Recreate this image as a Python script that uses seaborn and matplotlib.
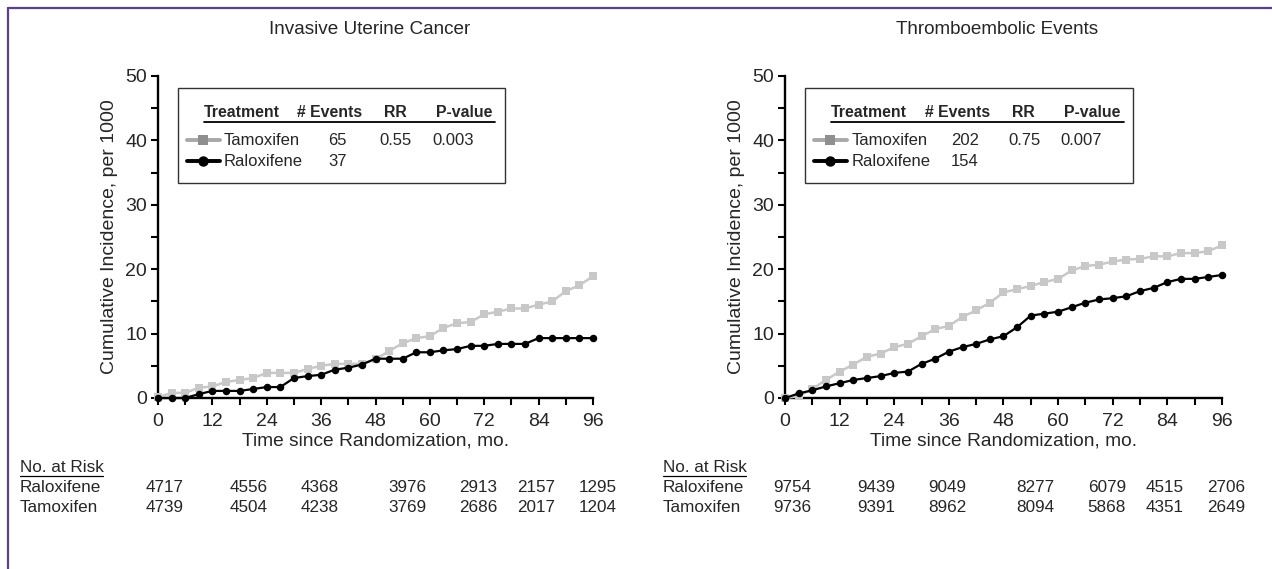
import matplotlib
matplotlib.use("Agg")
import matplotlib.pyplot as plt
from matplotlib.lines import Line2D
from matplotlib.patches import Rectangle
import matplotlib.transforms as mtransforms
import seaborn as sns
import pandas as pd

# ---------------- data ----------------
months = [0, 3, 6, 9, 12, 15, 18, 21, 24, 27, 30, 33, 36, 39, 42, 45, 48,
          51, 54, 57, 60, 63, 66, 69, 72, 75, 78, 81, 84, 87, 90, 93, 96]

uterine_tamoxifen = [0.1, 0.8, 0.8, 1.6, 1.8, 2.5, 2.8, 3.1, 3.9, 3.9, 3.9, 4.5, 5.0,
                     5.3, 5.3, 5.3, 6.0, 7.3, 8.5, 9.3, 9.6, 10.9, 11.6, 11.8, 13.0,
                     13.4, 13.9, 13.9, 14.5, 15.0, 16.6, 17.5, 18.9]
uterine_raloxifene = [0, 0, 0, 0.6, 1.1, 1.1, 1.1, 1.4, 1.7, 1.7, 3.1, 3.4, 3.6,
                      4.4, 4.7, 5.2, 6.1, 6.1, 6.1, 7.1, 7.1, 7.4, 7.6, 8.1, 8.1,
                      8.4, 8.4, 8.4, 9.3, 9.3, 9.3, 9.3, 9.3]

thrombo_tamoxifen = [0, 0.3, 1.4, 2.8, 4.1, 5.2, 6.4, 6.9, 7.9, 8.4, 9.6, 10.7, 11.2,
                     12.6, 13.6, 14.8, 16.4, 16.9, 17.4, 18.0, 18.5, 19.8, 20.5, 20.7,
                     21.2, 21.5, 21.6, 22.0, 22.0, 22.5, 22.5, 22.8, 23.7]
thrombo_raloxifene = [0, 0.7, 1.2, 1.8, 2.3, 2.8, 3.1, 3.4, 3.9, 4.1, 5.3, 6.1, 7.2,
                      7.9, 8.4, 9.1, 9.6, 11.0, 12.8, 13.1, 13.4, 14.1, 14.8, 15.3,
                      15.5, 15.8, 16.6, 17.1, 18.0, 18.5, 18.5, 18.8, 19.1]

titles = ["Invasive Uterine Cancer", "Thromboembolic Events"]
events_tam = ["65", "202"]
events_ral = ["37", "154"]
rr_values = ["0.55", "0.75"]
p_values = ["0.003", "0.007"]

risk_ral_uterine = ["4717", "4556", "4368", "3976", "2913", "2157", "1295"]
risk_tam_uterine = ["4739", "4504", "4238", "3769", "2686", "2017", "1204"]
risk_ral_thrombo = ["9754", "9439", "9049", "8277", "6079", "4515", "2706"]
risk_tam_thrombo = ["9736", "9391", "8962", "8094", "5868", "4351", "2649"]

xticks = [0, 12, 24, 36, 48, 60, 72, 84, 96]

# ---------------- style ----------------
sns.set_theme(style="ticks")
plt.rcParams["font.family"] = ["Liberation Sans", "DejaVu Sans"]

GRAY = "#c8c8c8"
LEG_GRAY = "#8f8f8f"
W, H = 1272, 569

fig = plt.figure(figsize=(W / 100, H / 100), dpi=100)
fig.patch.set_facecolor("white")

axes_px = [(158, 435), (785, 437)]
ax_bottom = 1 - 398 / H
ax_height = 322 / H

risk_x = [1.5, 20, 35.6, 55, 70.7, 83.5, 97]

panels = [
    (uterine_tamoxifen, uterine_raloxifene, risk_ral_uterine, risk_tam_uterine),
    (thrombo_tamoxifen, thrombo_raloxifene, risk_ral_thrombo, risk_tam_thrombo),
]

for i, ((tam, ral, rral, rtam), (x0, wpx)) in enumerate(zip(panels, axes_px)):
    ax = fig.add_axes([x0 / W, ax_bottom, wpx / W, ax_height])
    df = pd.DataFrame({"month": months, "Tamoxifen": tam, "Raloxifene": ral})
    sns.lineplot(data=df, x="month", y="Tamoxifen", ax=ax, color=GRAY,
                 marker="s", markersize=5.2, markeredgewidth=0, linewidth=1.8,
                 clip_on=False, zorder=3)
    sns.lineplot(data=df, x="month", y="Raloxifene", ax=ax, color="black",
                 marker="o", markersize=5.4, markeredgewidth=0, linewidth=1.6,
                 clip_on=False, zorder=4)
    ax.set_xlim(0, 96)
    ax.set_ylim(0, 50)
    ax.set_xticks(xticks)
    ax.set_xticks(list(range(6, 96, 12)), minor=True)
    ax.set_yticks([0, 10, 20, 30, 40, 50])
    ax.set_yticks([5, 15, 25, 35, 45], minor=True)
    for sp in ["top", "right"]:
        ax.spines[sp].set_visible(False)
    for sp in ["left", "bottom"]:
        ax.spines[sp].set_linewidth(1.7)
        ax.spines[sp].set_color("black")
    ax.tick_params(which="both", direction="out", length=5, width=1.5,
                   color="black", labelsize=14, pad=3)
    ax.tick_params(axis="x", which="major", pad=6)
    ax.set_xlabel("")
    ax.set_ylabel("Cumulative Incidence, per 1000", fontsize=14, labelpad=5)
    ax.set_facecolor("white")

    # title
    fig.text((x0 + wpx / 2 - 6) / W, 1 - 30 / H, titles[i], ha="center",
             va="center", fontsize=13.6)
    # x label
    ax.text(0.5, -0.135, "Time since Randomization, mo.", transform=ax.transAxes,
            ha="center", va="center", fontsize=13.8)

    # legend box
    ax.add_patch(Rectangle((0.045, 0.668), 0.752, 0.295, transform=ax.transAxes,
                           facecolor="white", edgecolor="#333333", linewidth=1.0,
                           zorder=5, clip_on=False))
    hy, r1, r2 = 0.888, 0.801, 0.736
    hdr_kw = dict(transform=ax.transAxes, fontsize=11.4, fontweight="bold",
                  va="center", zorder=6)
    ax.text(0.106, hy, "Treatment", ha="left", **hdr_kw)
    ax.text(0.395, hy, "# Events", ha="center", **hdr_kw)
    ax.text(0.545, hy, "RR", ha="center", **hdr_kw)
    ax.text(0.703, hy, "P-value", ha="center", **hdr_kw)
    ax.add_line(Line2D([0.106, 0.775], [0.857, 0.857], transform=ax.transAxes,
                       color="black", linewidth=1.3, zorder=6))
    row_kw = dict(transform=ax.transAxes, fontsize=12, va="center", zorder=6)
    ax.add_line(Line2D([0.066, 0.142], [r1, r1], transform=ax.transAxes,
                       color="#a8a8a8", linewidth=2.8, zorder=6))
    ax.add_line(Line2D([0.104], [r1], transform=ax.transAxes, marker="s",
                       markersize=7, color=LEG_GRAY, markeredgewidth=0, zorder=7))
    ax.add_line(Line2D([0.066, 0.142], [r2, r2], transform=ax.transAxes,
                       color="black", linewidth=2.8, zorder=6))
    ax.add_line(Line2D([0.104], [r2], transform=ax.transAxes, marker="o",
                       markersize=7.5, color="black", markeredgewidth=0, zorder=7))
    ax.text(0.152, r1, "Tamoxifen", ha="left", **row_kw)
    ax.text(0.152, r2, "Raloxifene", ha="left", **row_kw)
    ax.text(0.412, r1, events_tam[i], ha="center", **row_kw)
    ax.text(0.412, r2, events_ral[i], ha="center", **row_kw)
    ax.text(0.547, r1, rr_values[i], ha="center", **row_kw)
    ax.text(0.678, r1, p_values[i], ha="center", **row_kw)

    # at-risk table
    left_px = 20 if i == 0 else 663
    ys = [1 - 467 / H, 1 - 488 / H, 1 - 508 / H]
    fig.text(left_px / W, ys[0], "No. at Risk", ha="left", va="center",
             fontsize=12.3)
    fig.add_artist(Line2D([left_px / W, (left_px + 83) / W],
                          [ys[0] - 9 / H, ys[0] - 9 / H],
                          transform=fig.transFigure, color="black", linewidth=0.9))
    fig.text(left_px / W, ys[1], "Raloxifene", ha="left", va="center", fontsize=12.3)
    fig.text(left_px / W, ys[2], "Tamoxifen", ha="left", va="center", fontsize=12.3)
    trans = mtransforms.blended_transform_factory(ax.transData, fig.transFigure)
    for xv, a, b in zip(risk_x, rral, rtam):
        ax.text(xv, ys[1], a, transform=trans, ha="center", va="center",
                fontsize=12.3, clip_on=False)
        ax.text(xv, ys[2], b, transform=trans, ha="center", va="center",
                fontsize=12.3, clip_on=False)

# purple frame (top and left)
PURPLE = "#5b3f95"
fig.add_artist(Line2D([8 / W, 1], [1 - 8 / H, 1 - 8 / H], transform=fig.transFigure,
                      color=PURPLE, linewidth=1.6))
fig.add_artist(Line2D([8 / W, 8 / W], [0, 1 - 8 / H], transform=fig.transFigure,
                      color=PURPLE, linewidth=1.6))

fig.savefig("out.png", dpi=100, facecolor="white")
